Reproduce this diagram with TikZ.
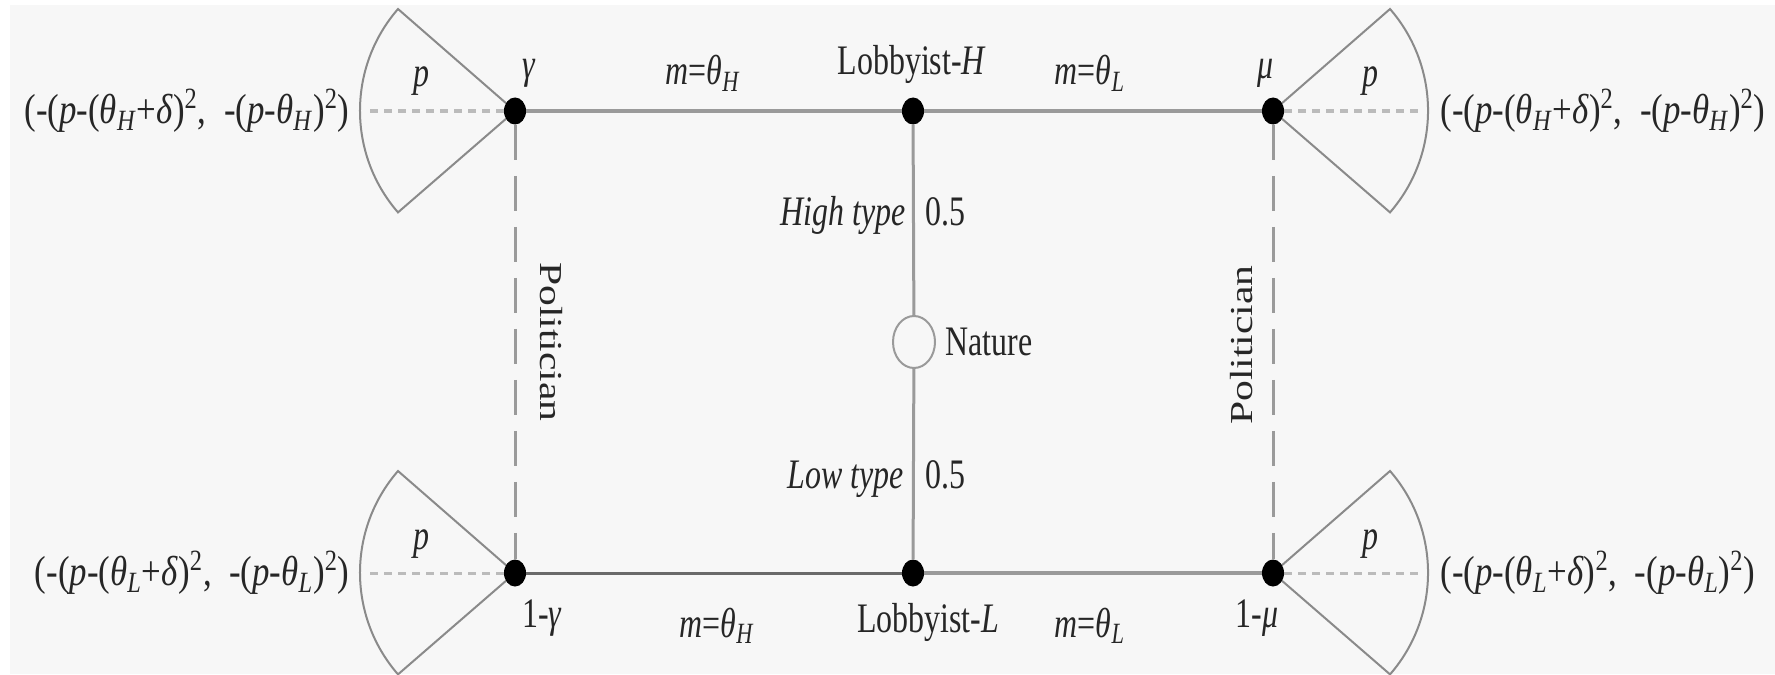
\documentclass[tikz,border=0pt]{standalone}
\usepackage{fontspec}
\setmainfont{Liberation Serif}[FakeStretch=0.76]
\newfontfamily\sidefont{Liberation Serif}[FakeStretch=1.3]
\newfontfamily\payfont{Liberation Serif}[FakeStretch=0.83]
\usetikzlibrary{shapes.geometric, backgrounds}

\definecolor{paper}{HTML}{F7F7F7}
\definecolor{edgegray}{HTML}{9A9A9A}
\definecolor{darkedge}{HTML}{6A6A6A}
\definecolor{fangray}{HTML}{8A8A8A}
\definecolor{dashgray}{HTML}{BBBBBB}

\newcommand{\thH}{\textit{θ}\textsubscript{\textit{H}}}
\newcommand{\thL}{\textit{θ}\textsubscript{\textit{L}}}
\newcommand{\payoff}[1]{(-(\textit{p}-(#1+\textit{δ})\textsuperscript{2}, \ -(\textit{p}-#1)\textsuperscript{2})}

\begin{document}
\begin{tikzpicture}[x=0.5pt, y=0.5pt,
  font=\fontsize{21}{24}\selectfont, text=black!85,
  dot/.style={ellipse, fill=black, inner sep=0pt, minimum width=11pt, minimum height=13.5pt},
  chance/.style={ellipse, draw=edgegray, line width=1pt, fill=paper, inner sep=0pt, minimum width=21pt, minimum height=26pt},
  lbl/.style={inner sep=0pt, anchor=base},
  side/.style={inner sep=0pt, font=\sidefont\fontsize{16}{18}\selectfont},
  pay/.style={inner sep=0pt, font=\payfont\fontsize{21}{24}\selectfont},
  move/.style={draw=edgegray, line width=2pt},
  nature/.style={draw=edgegray, line width=1.5pt},
  infoset/.style={draw=edgegray, line width=1.5pt, dash pattern=on 17.5pt off 8pt},
  fanline/.style={draw=fangray, line width=1pt, line join=miter},
  fandash/.style={draw=dashgray, line width=1.5pt, dash pattern=on 4pt off 3pt}
]
\useasboundingbox (0,0) rectangle (1775,-674);

% decision nodes and the chance node
\node[dot] (A) at (515,-111) {};
\node[dot] (LH) at (913,-111) {};
\node[dot] (B) at (1273,-111) {};
\node[dot] (C) at (515,-573) {};
\node[dot] (LL) at (913,-573) {};
\node[dot] (D) at (1273,-573) {};
\node[chance] (N) at (914,-342) {};

% moves
\draw[move] (A) -- (LH);
\draw[move] (LH) -- (B);
\draw[move, draw=darkedge, line width=1.5pt] (C) -- (LL);
\draw[move] (LL) -- (D);
\draw[nature] (LH) -- (N);
\draw[nature] (N) -- (LL);
\draw[infoset] (A) -- (C);
\draw[infoset] (B) -- (D);

% price choices of the politician
\begin{scope}[on background layer]
  \fill[paper] (10,-5) rectangle (1775,-674);
  \foreach \v in {A,C}{
    \draw[fanline] (\v.center) -- ++(-117,102) arc[start angle=139, end angle=221, radius=155] -- cycle;
    \draw[fandash] (\v) -- ++(-150,0);
  }
  \foreach \v in {B,D}{
    \draw[fanline] (\v.center) -- ++(117,102) arc[start angle=41, end angle=-41, radius=155] -- cycle;
    \draw[fandash] (\v) -- ++(150,0);
  }
\end{scope}

% labels
\node[lbl] (gam) at (529,-79) {\textit{γ}};
\node[lbl] (mu) at (1265,-79) {\textit{μ}};
\node[lbl] (LHlab) at (912,-75) {Lobbyist-\textit{H}};
\node[lbl] (mHtop) at (703,-85) {\textit{m}=\thH};
\node[lbl] (mLtop) at (1090,-85) {\textit{m}=\thL};
\node[lbl] (gamC) at (542,-627) {1-\textit{γ}};
\node[lbl] (muD) at (1257,-627) {1-\textit{μ}};
\node[lbl] (mHbot) at (717,-637) {\textit{m}=\thH};
\node[lbl] (LLlab) at (928,-632) {Lobbyist-\textit{L}};
\node[lbl] (mLbot) at (1090,-637) {\textit{m}=\thL};
\node[lbl, anchor=base east] (hi) at (906,-225) {\textit{High type}};
\node[lbl, anchor=base west] (hiP) at (925,-225) {0.5};
\node[lbl, anchor=base west] (nat) at (945,-355) {Nature};
\node[lbl, anchor=base east] (lo) at (904,-488) {\textit{Low type}};
\node[lbl, anchor=base west] (loP) at (925,-488) {0.5};
\node[side, rotate=-90] (polL) at (551,-342) {Politician};
\node[side, rotate=90] (polR) at (1242,-345) {Politician};

\node[lbl] (pA) at (421,-87) {\textit{p}};
\node[lbl] (pB) at (1370,-87) {\textit{p}};
\node[lbl] (pC) at (421,-549) {\textit{p}};
\node[lbl] (pD) at (1370,-549) {\textit{p}};

% payoffs (lobbyist, politician)
\node[pay, anchor=east] (uA) at (350,-111) {\payoff{\thH}};
\node[pay, anchor=east] (uC) at (350,-573) {\payoff{\thL}};
\node[pay, anchor=west] (uB) at (1440,-111) {\payoff{\thH}};
\node[pay, anchor=west] (uD) at (1440,-573) {\payoff{\thL}};
\end{tikzpicture}
\end{document}
